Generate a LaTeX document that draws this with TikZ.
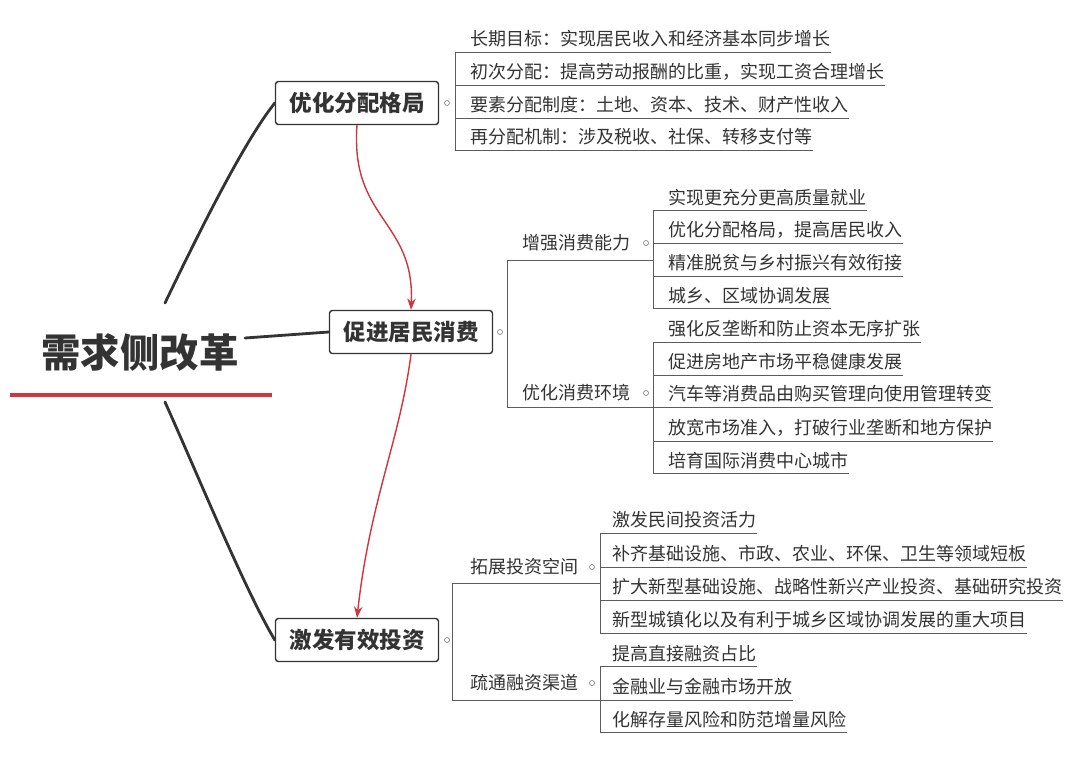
\documentclass[tikz,border=0pt]{standalone}
\usepackage{fontspec}
\setmainfont{Noto Sans CJK SC}
\usetikzlibrary{arrows.meta}
\definecolor{ink}{HTML}{333333}
\definecolor{redline}{HTML}{D0353F}
\tikzset{
  root/.style={font=\fontsize{28}{30}\selectfont\bfseries, text=ink},
  topic/.style={draw=ink, line width=1pt, rounded corners=2pt, minimum width=163\px, minimum height=43\px, font=\fontsize{16}{18}\selectfont\bfseries, text=ink, fill=white},
  sub/.style={font=\fontsize{12.8}{14}\selectfont, text=ink, anchor=west, inner sep=0pt},
  leaf/.style={font=\fontsize{12.8}{14}\selectfont, text=ink, anchor=south west, inner xsep=0pt, inner ysep=3pt},
  knob/.style={draw=ink!70, circle, inner sep=0pt, minimum size=5\px, fill=white},
  branch/.style={draw=ink!80, line width=0.6pt},
  trunk/.style={draw=ink, line width=2pt, line cap=round},
  flow/.style={draw=redline, line width=1pt, -{Stealth[length=8pt,width=6pt]}}
}
\newcommand{\px}{*0.711pt}
\begin{document}
\begin{tikzpicture}[x=0.025cm, y=-0.025cm]
\useasboundingbox (0,0) rectangle (1080,764);
% root
\node[root] (demand) at (140,352) {需求侧改革};
\draw[redline, line width=3pt] (10,395) -- (272,395);
% three topics
\node[topic] (income) at (357,103) {优化分配格局};
\node[topic] (consume) at (411,332) {促进居民消费};
\node[topic] (invest) at (357,640) {激发有效投资};
\coordinate (rootA) at (165,303);
\coordinate (rootB) at (245,338);
\coordinate (rootC) at (165,402);
\draw[trunk] (rootA) .. controls (200,230) and (245,140) .. (income.west);
\draw[trunk] (rootB) -- (consume.west);
\draw[trunk] (rootC) .. controls (200,480) and (245,590) .. (invest.west);
% red flow
\draw[flow] (income.south) .. controls (350,220) and (415,220) .. (consume.north);
\draw[flow] (consume.south) .. controls (400,440) and (370,500) .. (invest.north);
% knobs
\node[knob] (kIncome) at (447,103) {};
\node[knob] (kConsume) at (500,332) {};
\node[knob] (kInvest) at (447,640) {};

% leaves of income
\coordinate (bIncome) at (455,52);
\foreach \name/\y/\txt in {i1/52/{长期目标：实现居民收入和经济基本同步增长},
  i2/85/{初次分配：提高劳动报酬的比重，实现工资合理增长},
  i3/118/{要素分配制度：土地、资本、技术、财产性收入},
  i4/150/{再分配机制：涉及税收、社保、转移支付等}}{
  \node[leaf] (\name) at (470,\y) {\txt\hspace{7pt}};
  \draw[branch] (455,\y) -- (\name.south east);
}
\draw[branch] (bIncome) -- (455,150);

% consume sub branches
\coordinate (sConsTop) at (507,260);
\coordinate (sConsBot) at (507,407);
\draw[branch] (sConsTop) -- (sConsBot);
\node[sub] (ability) at (522,243) {增强消费能力};
\node[sub] (environ) at (522,393) {优化消费环境};
\node[knob] (kAbility) at (646,243) {};
\node[knob] (kEnviron) at (646,393) {};
\coordinate (bAbility) at (653,260);
\coordinate (bEnviron) at (653,407);
\draw[branch] (sConsTop) -- (bAbility);
\draw[branch] (sConsBot) -- (bEnviron);
\foreach \name/\y/\txt in {a1/210/{实现更充分更高质量就业},
  a2/243/{优化分配格局，提高居民收入},
  a3/276/{精准脱贫与乡村振兴有效衔接},
  a4/308/{城乡、区域协调发展},
  e1/342/{强化反垄断和防止资本无序扩张},
  e2/375/{促进房地产市场平稳健康发展},
  e3/407/{汽车等消费品由购买管理向使用管理转变},
  e4/441/{放宽市场准入，打破行业垄断和地方保护},
  e5/473/{培育国际消费中心城市}}{
  \node[leaf] (\name) at (668,\y) {\txt\hspace{7pt}};
  \draw[branch] (653,\y) -- (\name.south east);
}
\draw[branch] (653,210) -- (653,308);
\draw[branch] (653,342) -- (653,473);

% invest sub branches
\coordinate (sInvTop) at (452,583);
\coordinate (sInvBot) at (452,700);
\draw[branch] (sInvTop) -- (sInvBot);
\node[sub] (space) at (470,567) {拓展投资空间};
\node[sub] (channel) at (470,683) {疏通融资渠道};
\node[knob] (kSpace) at (592,567) {};
\node[knob] (kChannel) at (592,683) {};
\coordinate (bSpace) at (600,583);
\coordinate (bChannel) at (600,700);
\draw[branch] (sInvTop) -- (bSpace);
\draw[branch] (sInvBot) -- (bChannel);
\foreach \name/\y/\txt in {s1/533/{激发民间投资活力},
  s2/567/{补齐基础设施、市政、农业、环保、卫生等领域短板},
  s3/600/{扩大新型基础设施、战略性新兴产业投资、基础研究投资},
  s4/633/{新型城镇化以及有利于城乡区域协调发展的重大项目},
  c1/666/{提高直接融资占比},
  c2/700/{金融业与金融市场开放},
  c3/732/{化解存量风险和防范增量风险}}{
  \node[leaf] (\name) at (612,\y) {\txt\hspace{7pt}};
  \draw[branch] (600,\y) -- (\name.south east);
}
\draw[branch] (600,533) -- (600,633);
\draw[branch] (600,666) -- (600,732);
\end{tikzpicture}
\end{document}
